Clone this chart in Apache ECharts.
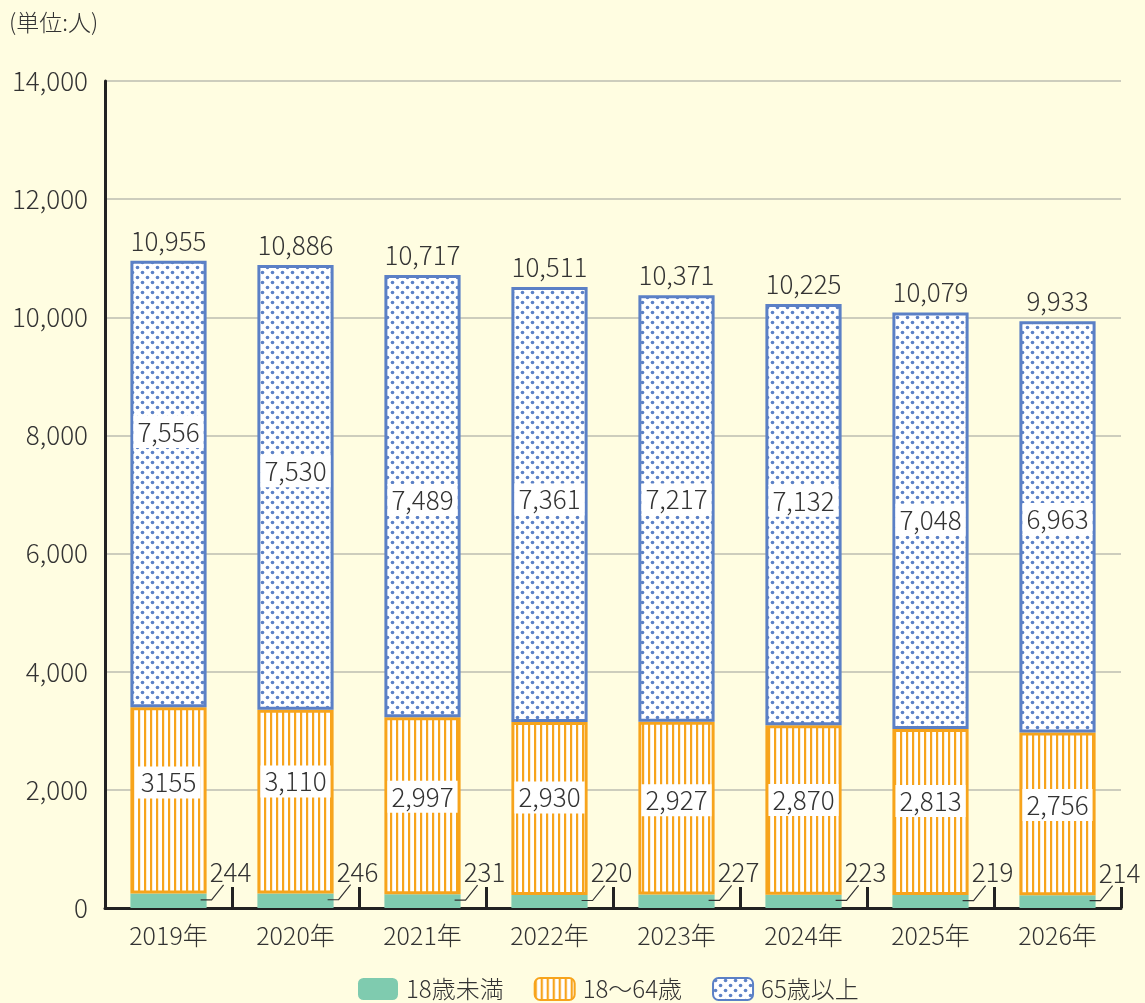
<!DOCTYPE html>
<html>
<head>
<meta charset="utf-8">
<script src="https://cdn.jsdelivr.net/npm/echarts@6/dist/echarts.min.js"></script>
<style>
html,body{margin:0;padding:0;background:#fffde1;}
#chart{width:1145px;height:1003px;}
</style>
</head>
<body>
<div id="chart"></div>
<script>
var years = ['2019年','2020年','2021年','2022年','2023年','2024年','2025年','2026年'];
var under18 = [244, 246, 231, 220, 227, 223, 219, 214];
var working = [3155, 3110, 2997, 2930, 2927, 2870, 2813, 2756];
var workingText = ['3155','3,110','2,997','2,930','2,927','2,870','2,813','2,756'];
var elderly = [7556, 7530, 7489, 7361, 7217, 7132, 7048, 6963];
var totals = [10955, 10886, 10717, 10511, 10371, 10225, 10079, 9933];
// label nudges (px) so boxes sit where the original put them
var workingShift = [-18, -20, -9, -11, -8, -10, -11, -9];
var elderlyShift = [-52, -16, 4, -5, -9, -14, -1, -8];

var FONT = '"Noto Sans CJK JP", "Noto Sans", sans-serif';
var TXT = '#333';
var W = 300;

function fmt(v){
    return String(v).replace(/\B(?=(\d{3})+(?!\d))/g, ',');
}

function stripePattern(){
    var c = document.createElement('canvas');
    c.width = 6; c.height = 6;
    var ctx = c.getContext('2d');
    ctx.fillStyle = '#fff';
    ctx.fillRect(0, 0, 6, 6);
    ctx.fillStyle = '#f7a41c';
    ctx.fillRect(0, 0, 2.2, 6);
    return c;
}
function dotPattern(){
    var c = document.createElement('canvas');
    c.width = 10; c.height = 10;
    var ctx = c.getContext('2d');
    ctx.fillStyle = '#fff';
    ctx.fillRect(0, 0, 10, 10);
    ctx.fillStyle = '#5b80c6';
    [[2.5,2.5],[7.5,7.5]].forEach(function(p){
        ctx.beginPath();
        ctx.arc(p[0], p[1], 1.8, 0, Math.PI*2);
        ctx.fill();
    });
    return c;
}

var boxLabel = {
    show: true,
    position: 'inside',
    backgroundColor: '#fff',
    padding: [4, 4, 2, 4],
    color: TXT,
    fontSize: 26,
    fontWeight: W,
    fontFamily: FONT
};

var chart = echarts.init(document.getElementById('chart'));

var option = {
    backgroundColor: '#fffde1',
    textStyle: {fontFamily: FONT},
    title: {
        text: '(単位:人)',
        left: 4, top: 6,
        textStyle: {fontSize: 23, fontWeight: W, color: TXT, fontFamily: FONT}
    },
    legend: {
        top: 977,
        left: 358,
        padding: 0,
        itemWidth: 40,
        itemHeight: 22,
        itemGap: 30,
        data: ['18歳未満', '18～64歳', '65歳以上'],
        textStyle: {fontSize: 24, fontWeight: W, color: TXT, fontFamily: FONT, padding: [0, 0, 0, 3]}
    },
    grid: {left: 105, right: 24, top: 81, bottom: 95},
    xAxis: {
        type: 'category',
        data: years,
        axisLine: {lineStyle: {color: '#222', width: 3}},
        axisTick: {show: true, inside: true, length: 21, lineStyle: {color: '#222', width: 3}},
        axisLabel: {fontSize: 25, fontWeight: W, color: TXT, margin: 15, fontFamily: FONT}
    },
    yAxis: {
        type: 'value',
        min: 0, max: 14000, interval: 2000,
        axisLine: {show: true, lineStyle: {color: '#222', width: 3}},
        axisTick: {show: false},
        splitLine: {lineStyle: {color: '#bdbdb0', width: 1.5}},
        axisLabel: {fontSize: 26, fontWeight: W, color: TXT, margin: 17, fontFamily: FONT, formatter: fmt}
    },
    series: [
        {
            name: '18歳未満', type: 'bar', stack: 'p', barWidth: '60%',
            itemStyle: {color: '#7fcbaf'},
            data: under18
        },
        {
            name: '18～64歳', type: 'bar', stack: 'p',
            itemStyle: {color: {image: stripePattern(), repeat: 'repeat'}, borderColor: '#f7a41c', borderWidth: 3},
            label: boxLabel,
            data: working.map(function(v, i){
                return {value: v, label: {offset: [0, workingShift[i]], formatter: workingText[i]}};
            })
        },
        {
            name: '65歳以上', type: 'bar', stack: 'p',
            itemStyle: {color: {image: dotPattern(), repeat: 'repeat'}, borderColor: '#5b80c6', borderWidth: 3},
            label: boxLabel,
            data: elderly.map(function(v, i){
                return {value: v, label: {offset: [0, elderlyShift[i]], formatter: fmt(v)}};
            })
        },
        {
            name: 'under18Label', type: 'custom', z: 5,
            data: under18.map(function(v, i){ return [i, v]; }),
            renderItem: function(params, api){
                var p = api.coord([api.value(0), api.value(1) / 2]);
                var half = api.size([1, 0])[0] * 0.3;
                var x0 = p[0] + half - 6, y0 = p[1] - 1;
                var x1 = x0 + 11, x2 = x1 + 12, y2 = y0 - 15;
                return {
                    type: 'group',
                    children: [
                        {type: 'polyline', shape: {points: [[x0, y0], [x1, y0], [x2, y2]]},
                         style: {stroke: '#333', lineWidth: 1.2, fill: null}},
                        {type: 'text', style: {text: String(api.value(1)), x: p[0] + 62, y: y2 - 13,
                         align: 'center', verticalAlign: 'middle', fill: TXT, fontSize: 26, fontWeight: W, fontFamily: FONT}}
                    ]
                };
            }
        },
        {
            name: 'totalLabel', type: 'custom', z: 5,
            data: totals.map(function(v, i){ return [i, v]; }),
            renderItem: function(params, api){
                var p = api.coord([api.value(0), api.value(1)]);
                return {
                    type: 'text',
                    style: {text: fmt(api.value(1)), x: p[0], y: p[1] - 20, align: 'center', verticalAlign: 'middle',
                            fill: TXT, fontSize: 26, fontWeight: W, fontFamily: FONT}
                };
            }
        }
    ]
};

chart.setOption(option);
</script>
</body>
</html>
